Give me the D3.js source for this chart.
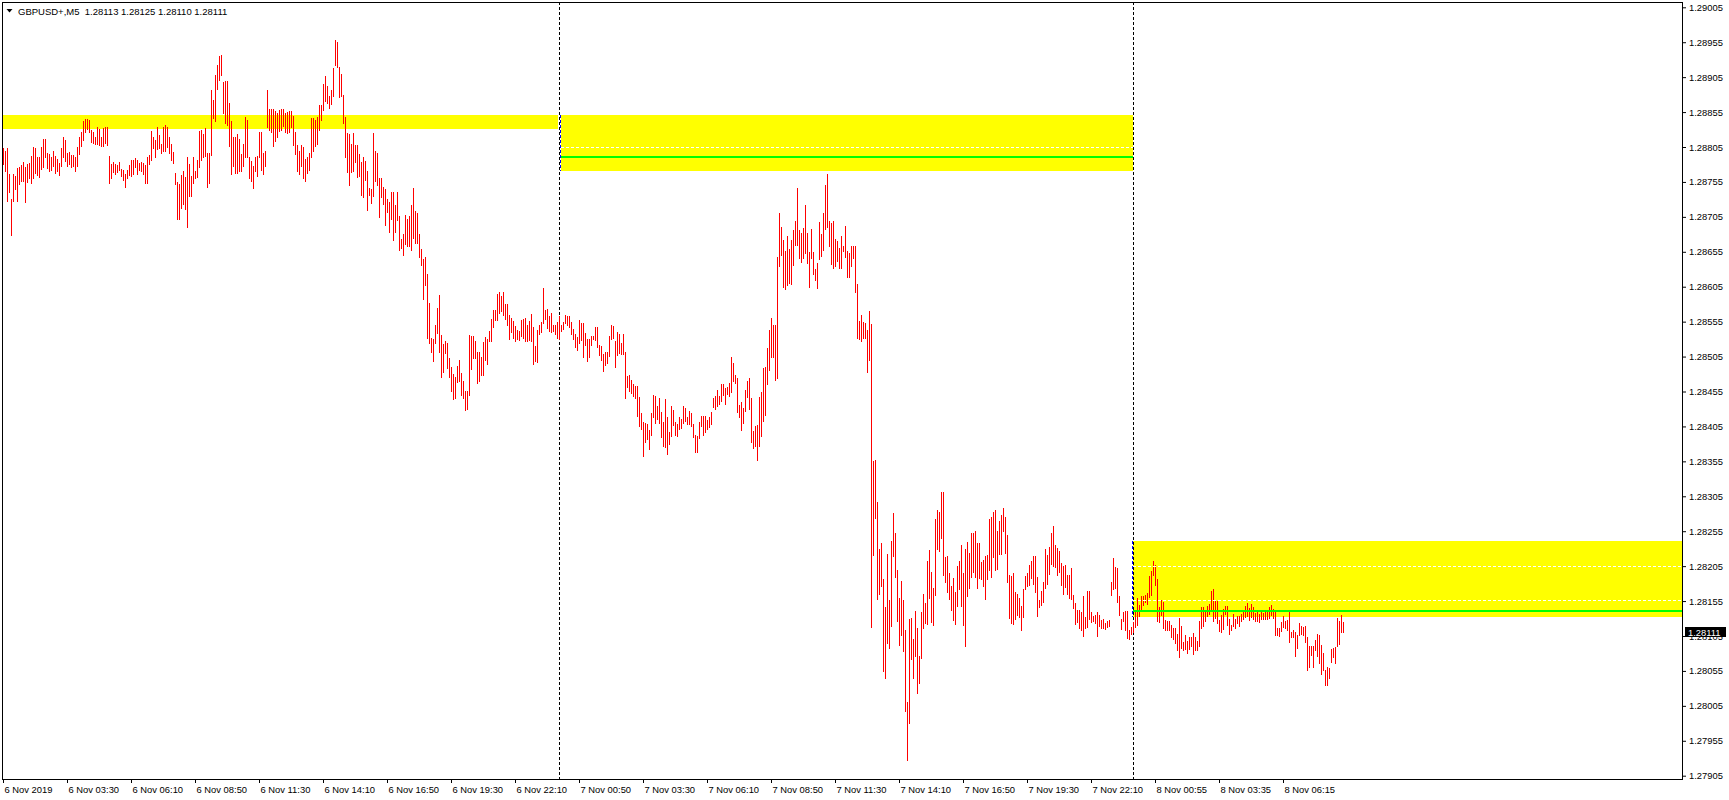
<!DOCTYPE html>
<html><head><meta charset="utf-8">
<script src="https://cdn.jsdelivr.net/npm/d3@7"></script>
<style>
html,body{margin:0;padding:0;background:#fff;overflow:hidden}
svg{display:block}
text{font-family:"Liberation Sans",Arial,sans-serif;}
</style></head><body>
<svg id="chart" width="1729" height="800"></svg>
<script>
// ---------------- DATA ----------------
const symbol = "GBPUSD+,M5";
const lastOHLC = ["1.28113", "1.28125", "1.28110", "1.28111"];
const basePrice = 1.28;          // prices below are in points above 1.28000
const highPts = [
803,800,803,766,731,766,764,775,776,779, 784,776,781,782,792,805,803,791,791,805,
817,817,796,795,791,800,792,788,782,803, 820,815,796,798,794,793,791,805,820,826,
842,845,845,844,829,827,819,834,831,819, 832,833,833,792,780,784,781,779,784,774,
772,767,772,779,786,787,789,787,782,783, 782,779,791,793,828,820,815,833,822,810,
833,836,834,819,810,798,768,755,752,765, 770,762,790,780,764,790,770,787,828,830,
823,832,797,796,886,873,908,922,935,937, 898,900,900,868,842,820,820,823,816,795,
809,848,843,790,785,778,790,792,827,827, 796,800,887,860,860,859,857,853,858,859,
859,853,855,857,856,849,826,808,800,808, 805,788,791,797,847,847,844,848,865,865,
895,907,893,878,887,918,958,955,919,910, 880,848,825,824,810,825,808,808,795,783,
790,785,770,746,745,825,799,796,760,760, 748,745,730,726,740,741,722,740,706,674,
680,707,702,706,722,746,713,710,680,659, 644,648,623,581,532,530,550,575,593,536,
523,527,525,503,490,480,476,492,500,481, 470,456,456,536,535,535,528,512,512,505,
526,533,530,542,559,572,572,594,598,592, 597,580,580,564,560,556,549,543,541,557,
559,560,550,556,566,548,520,543,550,554, 603,572,573,563,567,550,550,554,563,550,
554,564,563,563,555,545,538,533,557,553, 553,539,530,530,534,535,548,547,521,520,
508,511,512,534,550,549,527,540,538,525, 537,512,477,478,472,466,463,463,447,424,
411,410,408,400,424,450,449,434,446,425, 411,444,418,397,434,428,411,409,419,416,
434,431,419,427,424,409,393,391,411,420, 420,420,414,418,426,446,448,457,448,466,
466,460,462,467,504,496,478,474,436,440, 432,457,470,474,446,398,406,407,447,454,
489,490,517,543,560,550,550,647,711,691, 672,656,678,659,672,686,699,747,686,682,
689,722,682,655,687,655,631,639,697,680, 711,751,766,699,696,699,673,670,660,677,
663,692,656,653,663,663,663,609,556,565, 554,553,543,570,552,355,357,297,230,238,
186,146,222,157,241,281,252,199,160,184, 157,114,10,130,131,100,141,116,77,139,
165,152,213,228,197,173,272,286,282,311, 311,218,219,195,177,188,168,205,213,235,
195,230,239,224,253,252,255,238,238,211, 214,219,221,272,276,282,286,255,270,278,
288,275,249,193,191,195,168,165,160,148, 172,191,195,207,212,219,219,190,156,170,
182,230,221,232,252,262,235,231,226,210, 205,206,193,193,203,164,152,142,142,139,
162,132,170,170,140,133,135,139,135,128, 129,124,126,128,183,216,204,202,162,130,
140,141,141,113,118,125,139,159,149,162, 162,164,167,191,198,212,206,186,146,157,
154,128,127,127,121,117,116,108,131,119, 96,107,98,104,104,109,104,98,126,147,
147,141,148,151,169,172,157,155,128,135, 144,148,148,129,121,136,129,134,134,137,
140,148,152,145,151,146,138,141,137,141, 138,141,140,147,150,144,141,117,117,125,
134,126,128,140,110,113,111,106,124,120, 118,120,104,91,91,91,99,108,106,92,
80,57,61,59,87,88,89,131,126,135, 125
];
const lowPts = [
781,770,727,741,679,728,745,727,752,757, 756,726,755,760,754,760,768,765,762,773,
777,790,775,770,772,778,768,770,765,778, 790,785,778,781,776,778,770,778,795,806,
815,827,831,826,812,811,810,810,808,807, 807,811,808,754,760,769,767,769,772,763,
758,748,760,765,763,767,777,767,772,770, 767,754,754,781,787,803,790,802,803,796,
800,800,805,796,786,782,752,702,702,718, 724,716,690,735,735,753,761,762,776,786,
790,792,748,754,793,847,842,888,901,908, 854,840,837,806,767,778,768,768,770,770,
778,791,791,760,757,746,770,764,791,772, 767,778,834,829,826,806,813,820,828,829,
835,826,825,826,833,808,795,771,767,778, 760,757,768,772,790,800,806,810,830,843,
858,871,868,861,866,878,922,920,877,878, 840,790,769,751,769,771,783,762,763,736,
733,758,715,737,725,735,757,750,705,733, 724,693,712,684,702,672,684,700,658,660,
651,666,664,664,658,675,668,668,647,636, 587,608,532,525,511,499,525,539,511,476,
483,510,488,476,456,444,445,468,470,450, 445,429,430,450,487,503,503,467,470,479,
478,500,495,527,528,547,557,557,568,570, 565,559,550,530,540,532,528,530,529,534,
532,528,528,529,528,495,498,497,537,540, 553,559,546,541,540,541,537,532,530,541,
545,553,550,547,537,530,519,514,524,529, 505,521,499,504,521,530,529,518,507,500,
484,493,496,506,530,531,490,507,510,509, 509,446,461,455,453,448,445,420,405,401,
363,383,387,373,393,418,410,415,410,390, 377,376,365,380,391,407,393,392,401,403,
410,413,409,408,405,390,369,369,389,406, 393,397,402,404,409,433,430,434,437,442,
450,437,451,448,454,470,467,425,418,400, 410,427,447,430,383,374,377,357,377,391,
413,422,466,486,505,504,472,475,635,651, 605,602,607,610,609,636,665,665,646,641,
646,653,639,605,646,623,615,603,644,649, 657,688,690,663,637,632,635,642,632,632,
656,648,619,619,635,646,598,531,530,527, 532,532,483,500,118,221,274,158,165,177,
55,45,95,88,119,220,190,127,92,107, 83,-3,-72,-20,72,45,76,24,38,73,
117,124,122,160,125,121,164,229,227,245, 192,183,168,158,142,128,122,148,172,148,
121,91,162,173,190,196,190,174,188,186, 176,158,187,199,190,218,199,201,222,222,
255,224,183,131,124,122,129,135,132,114, 132,172,176,178,188,180,168,134,146,150,
154,173,179,194,208,205,204,193,196,178, 165,175,165,159,158,145,122,125,117,113,
105,117,118,129,125,126,123,105,120,117, 116,115,118,119,163,172,173,153,135,115,
126,113,102,100,108,110,118,121,133,144, 150,153,151,161,164,193,178,126,125,135,
116,113,113,113,104,101,95,85,75,88, 85,87,80,87,90,79,85,85,91,117,
120,126,134,136,141,127,131,123,112,110, 115,137,121,108,113,120,117,124,120,126,
129,132,134,128,132,130,126,127,125,130, 130,130,130,131,135,131,107,107,105,112,
118,116,114,96,103,104,77,88,106,108, 107,96,57,61,78,60,85,77,66,50,
57,35,35,45,68,75,67,90,94,110, 110
];
const priceTicks = ["1.29005","1.28955","1.28905","1.28855","1.28805","1.28755","1.28705","1.28655",
  "1.28605","1.28555","1.28505","1.28455","1.28405","1.28355","1.28305","1.28255","1.28205",
  "1.28155","1.28105","1.28055","1.28005","1.27955","1.27905"];
const timeTickBars = [0,32,64,96,128,160,192,224,256,288,320,352,384,416,448,480,512,544,576,608,640];
const timeTickLabels = ["6 Nov 2019","6 Nov 03:30","6 Nov 06:10","6 Nov 08:50","6 Nov 11:30","6 Nov 14:10",
  "6 Nov 16:50","6 Nov 19:30","6 Nov 22:10","7 Nov 00:50","7 Nov 03:30","7 Nov 06:10","7 Nov 08:50",
  "7 Nov 11:30","7 Nov 14:10","7 Nov 16:50","7 Nov 19:30","7 Nov 22:10","8 Nov 00:55","8 Nov 03:35","8 Nov 06:15"];
const daySeparatorBars = [278, 565];
// supply / demand zones (bar index span, price span)
const zoneFromBar = [-5, 278.8, 565.1];
const zoneToBar   = [277.7, 565.1, 900];
const zoneTop     = [1.28851, 1.28851, 1.28241];
const zoneBottom  = [1.28831, 1.28771, 1.28132];
const zoneEdgeZones = [1, 2];                 // zones with dashed left edge
const greenLevels = [1.28791, 1.28141];
const greenZone   = [1, 2];
const dashLevels  = [1.28805, 1.28205, 1.28156];
const dashZone    = [1, 2, 2];
const currentPrice = "1.28111";

// ---------------- DRAW ----------------
const svg = d3.select("#chart");
const L = 2, T = 2, R = 1682, B = 779;
const x = d3.scaleLinear().domain([0, 670]).range([3, 1343]);
const y = d3.scaleLinear().domain([1.27905, 1.29005]).range([775.7, 7.3]);
const P = v => basePrice + v / 100000;

svg.append("defs").append("clipPath").attr("id", "clip")
  .append("rect").attr("x", L).attr("y", T).attr("width", R - L).attr("height", B - T);
const plot = svg.append("g").attr("clip-path", "url(#clip)");

// zones
plot.append("g").selectAll("rect").data(zoneTop).join("rect")
  .attr("x", (d, i) => Math.round(x(zoneFromBar[i])))
  .attr("width", (d, i) => Math.round(x(zoneToBar[i])) - Math.round(x(zoneFromBar[i])))
  .attr("y", (d, i) => Math.round(y(zoneTop[i])))
  .attr("height", (d, i) => Math.round(y(zoneBottom[i])) - Math.round(y(zoneTop[i])))
  .attr("fill", "#ffff00");

// day separators
plot.append("g").selectAll("line").data(daySeparatorBars).join("line")
  .attr("x1", d => x(d) + 0.5).attr("x2", d => x(d) + 0.5)
  .attr("y1", T).attr("y2", B)
  .attr("stroke", "#000").attr("stroke-width", 1).attr("stroke-dasharray", "3,2");

// blue dashed left edges of zones
plot.append("g").selectAll("line").data(zoneEdgeZones).join("line")
  .attr("x1", z => Math.round(x(zoneFromBar[z])) - 0.5).attr("x2", z => Math.round(x(zoneFromBar[z])) - 0.5)
  .attr("y1", z => Math.round(y(zoneTop[z]))).attr("y2", z => Math.round(y(zoneBottom[z])))
  .attr("stroke", "#0000ff").attr("stroke-width", 1).attr("stroke-dasharray", "3,2");

// bars
plot.append("g").selectAll("rect").data(highPts).join("rect")
  .attr("x", (d, i) => x(i))
  .attr("width", 1)
  .attr("y", (d, i) => Math.round(y(P(highPts[i]))))
  .attr("height", (d, i) => Math.max(1, Math.round(y(P(lowPts[i]))) - Math.round(y(P(highPts[i]))) + 1))
  .attr("fill", "#ff0000")
  .attr("shape-rendering", "crispEdges");

// white dashed levels
plot.append("g").selectAll("line").data(dashLevels).join("line")
  .attr("x1", (d, i) => Math.round(x(zoneFromBar[dashZone[i]])))
  .attr("x2", (d, i) => Math.round(x(zoneToBar[dashZone[i]])))
  .attr("y1", d => Math.round(y(d)) + 0.5).attr("y2", d => Math.round(y(d)) + 0.5)
  .attr("stroke", "#fff").attr("stroke-width", 1).attr("stroke-dasharray", "3,2");

// green levels
plot.append("g").selectAll("line").data(greenLevels).join("line")
  .attr("x1", (d, i) => Math.round(x(zoneFromBar[greenZone[i]])))
  .attr("x2", (d, i) => Math.round(x(zoneToBar[greenZone[i]])))
  .attr("y1", d => Math.round(y(d))).attr("y2", d => Math.round(y(d)))
  .attr("stroke", "#00ff00").attr("stroke-width", 2);

// frame
svg.append("rect").attr("x", L + 0.5).attr("y", T + 0.5).attr("width", R - L).attr("height", B - T)
  .attr("fill", "none").attr("stroke", "#000").attr("stroke-width", 1);

// price axis
const yAxis = svg.append("g").attr("transform", `translate(${R},0)`)
  .call(d3.axisRight(y).tickValues(priceTicks.map(Number)).tickFormat(d => d.toFixed(5))
    .tickSize(4).tickPadding(3));
yAxis.select(".domain").remove();
yAxis.selectAll("text").attr("font-family", "Liberation Sans, Arial, sans-serif")
  .attr("font-size", "9.4px").attr("fill", "#000");
yAxis.selectAll("line").attr("stroke", "#000");

// time axis
const xAxis = svg.append("g").attr("transform", `translate(0,${B})`)
  .call(d3.axisBottom(x).tickValues(timeTickBars).tickFormat((d, i) => timeTickLabels[i])
    .tickSize(4).tickPadding(3));
xAxis.select(".domain").remove();
xAxis.selectAll("text").attr("text-anchor", "start").attr("x", 1)
  .attr("font-family", "Liberation Sans, Arial, sans-serif")
  .attr("font-size", "9.4px").attr("fill", "#000");
xAxis.selectAll("line").attr("stroke", "#000");

// current price label
const cy = y(Number(currentPrice));
svg.append("rect").attr("x", 1685).attr("y", Math.round(cy) - 5).attr("width", 41).attr("height", 10)
  .attr("fill", "#000");
svg.append("text").attr("x", 1688).attr("y", Math.round(cy) + 3.5)
  .attr("font-size", "9.4px").attr("fill", "#fff").text(currentPrice);

// title
svg.append("path").attr("d", "M6.5,9 L12.5,9 L9.5,12.5 Z").attr("fill", "#000");
svg.append("text").attr("x", 18).attr("y", 14.5).attr("font-size", "9.5px").attr("fill", "#000")
  .style("white-space", "pre")
  .text(symbol + "  " + lastOHLC.join(" "));
</script>
</body></html>
